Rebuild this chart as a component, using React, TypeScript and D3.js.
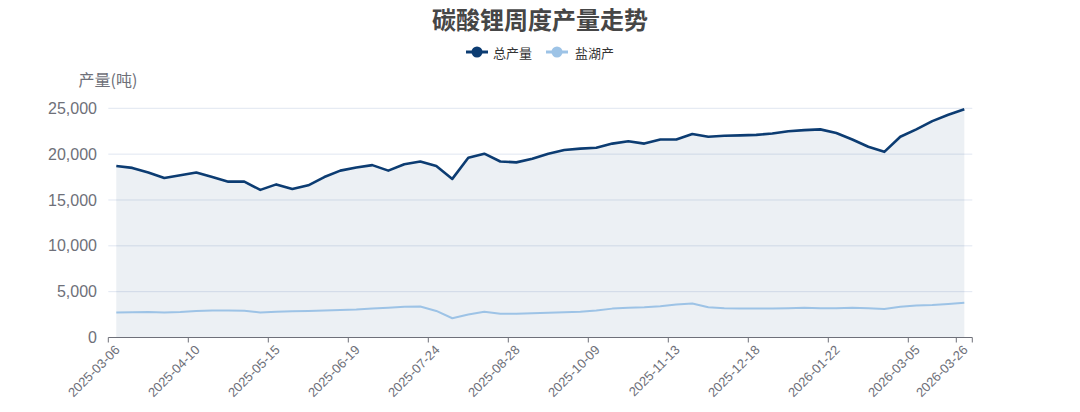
import React from "react";
import * as d3 from "d3";

const dates: string[] = [
  "2025-03-06", "2025-03-13", "2025-03-20", "2025-03-27", "2025-04-03",
  "2025-04-10", "2025-04-17", "2025-04-24", "2025-05-01", "2025-05-08",
  "2025-05-15", "2025-05-22", "2025-05-29", "2025-06-05", "2025-06-12",
  "2025-06-19", "2025-06-26", "2025-07-03", "2025-07-10", "2025-07-17",
  "2025-07-24", "2025-07-31", "2025-08-07", "2025-08-14", "2025-08-21",
  "2025-08-28", "2025-09-04", "2025-09-11", "2025-09-18", "2025-09-25",
  "2025-10-09", "2025-10-16", "2025-10-23", "2025-10-30", "2025-11-06",
  "2025-11-13", "2025-11-20", "2025-11-27", "2025-12-04", "2025-12-11",
  "2025-12-18", "2025-12-25", "2026-01-01", "2026-01-08", "2026-01-15",
  "2026-01-22", "2026-01-29", "2026-02-05", "2026-02-12", "2026-02-26",
  "2026-03-05", "2026-03-12", "2026-03-19", "2026-03-26",
];

const totalOutput: number[] = [
  18700, 18500, 18000, 17400, 17700, 18000, 17500, 17000, 17000, 16100,
  16700, 16200, 16600, 17500, 18200, 18550, 18800, 18200, 18900, 19200,
  18700, 17300, 19600, 20050, 19200, 19100, 19500, 20050, 20450, 20600,
  20700, 21150, 21400, 21150, 21600, 21600, 22200, 21900, 22000, 22050,
  22100, 22250, 22500, 22620, 22700, 22300, 21600, 20800, 20250, 21900,
  22700, 23600, 24300, 24900,
];

const saltLake: number[] = [
  2720, 2760, 2780, 2720, 2780, 2900, 2950, 2950, 2920, 2720,
  2800, 2850, 2900, 2950, 3000, 3050, 3150, 3250, 3350, 3380,
  2900, 2100, 2500, 2800, 2600, 2600, 2650, 2700, 2750, 2800,
  2950, 3150, 3250, 3300, 3400, 3600, 3700, 3300, 3200, 3150,
  3150, 3150, 3200, 3250, 3200, 3200, 3250, 3200, 3100, 3350,
  3500, 3550, 3650, 3780,
];

const yTicks: number[] = [0, 5000, 10000, 15000, 20000, 25000];
const labelIndices: number[] = [0, 5, 10, 15, 20, 25, 30, 35, 40, 45, 50, 53];
const tickBoundaries: number[] = [0, 5, 10, 15, 20, 25, 30, 35, 40, 45, 50, 53, 54];

const TOTAL_COLOR = "#0c3c72";
const SALT_COLOR = "#9dc3e6";
const FONT = "'Liberation Sans', Arial, 'Noto Sans CJK SC', sans-serif";
const CJK = "'Noto Sans CJK SC', sans-serif";

export default function App() {
  React.useEffect(() => {
    document.body.style.margin = "0";
  }, []);

  const W = 1080;
  const H = 412;
  const left = 108.3;
  const right = 972.3;
  const top = 108.3;
  const bottom = 337.5;

  const xBand = d3
    .scaleBand<number>()
    .domain(d3.range(dates.length))
    .range([left, right])
    .paddingInner(0)
    .paddingOuter(0);
  const bw = xBand.bandwidth();
  const cx = (i: number) => (xBand(i) as number) + bw / 2;
  const bx = (i: number) => left + i * bw;

  const y = d3.scaleLinear().domain([0, 25000]).range([bottom, top]);

  const line = d3
    .line<number>()
    .x((_, i) => cx(i))
    .y((d) => y(d));
  const area = d3
    .area<number>()
    .x((_, i) => cx(i))
    .y0(y(0))
    .y1((d) => y(d));

  return (
    <svg width={W} height={H} style={{ display: "block", background: "#fff" }} fontFamily={FONT}>
      <text x={540} y={29} textAnchor="middle" fontSize={24} fontWeight="bold" fill="#464646" fontFamily={CJK}>
        碳酸锂周度产量走势
      </text>

      {/* legend */}
      <g fontFamily={CJK} fontSize={13} fill="#333">
        <line x1={466} x2={488} y1={52} y2={52} stroke={TOTAL_COLOR} strokeWidth={3} />
        <circle cx={477} cy={52} r={5.5} fill={TOTAL_COLOR} />
        <text x={493} y={52} dominantBaseline="central">总产量</text>
        <line x1={546} x2={568} y1={52} y2={52} stroke={SALT_COLOR} strokeWidth={3} />
        <circle cx={557} cy={52} r={5.5} fill={SALT_COLOR} />
        <text x={575} y={52} dominantBaseline="central">盐湖产</text>
      </g>

      {/* y axis name */}
      <text x={108} y={86} textAnchor="middle" fontSize={16} fill="#6e7079" fontFamily={CJK}>
        产量(吨)
      </text>

      {/* grid */}
      {yTicks.filter((t) => t > 0).map((t) => (
        <line key={t} x1={left} x2={right} y1={y(t)} y2={y(t)} stroke="#e0e6f1" strokeWidth={1} />
      ))}

      {/* y labels */}
      {yTicks.map((t) => (
        <text key={t} x={97} y={y(t)} dy="0.35em" textAnchor="end" fontSize={16} fill="#6e7079">
          {d3.format(",")(t)}
        </text>
      ))}

      {/* area + lines */}
      <path d={area(totalOutput) || ""} fill={TOTAL_COLOR} fillOpacity={0.08} />
      <path d={line(saltLake) || ""} fill="none" stroke={SALT_COLOR} strokeWidth={2} strokeLinejoin="round" />
      <path d={line(totalOutput) || ""} fill="none" stroke={TOTAL_COLOR} strokeWidth={2.6} strokeLinejoin="round" />

      {/* x axis */}
      <line x1={left} x2={right} y1={bottom} y2={bottom} stroke="#6e7079" strokeWidth={1} />
      {tickBoundaries.map((b) => (
        <line key={b} x1={bx(b)} x2={bx(b)} y1={bottom} y2={bottom + 5} stroke="#6e7079" strokeWidth={1} />
      ))}
      {labelIndices.map((i) => (
        <text
          key={i}
          transform={`translate(${cx(i) + 1},${bottom + 10}) rotate(-45)`}
          textAnchor="end"
          dy="0.35em"
          fontSize={13}
          fill="#6e7079"
        >
          {dates[i]}
        </text>
      ))}
    </svg>
  );
}
